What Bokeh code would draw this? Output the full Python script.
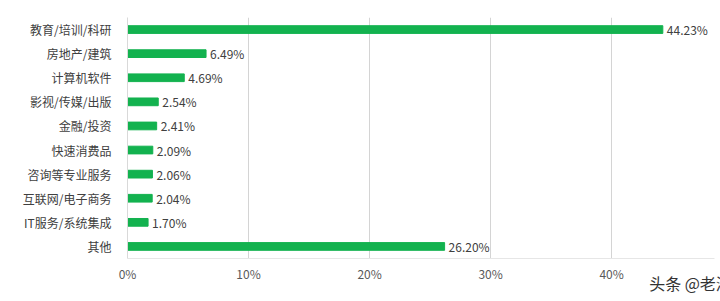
from bokeh.plotting import figure
from bokeh.models import FactorRange, Range1d, FixedTicker, ColumnDataSource
from bokeh.core.properties import value
from bokeh.embed import file_html
from bokeh.resources import INLINE

categories = ["教育/培训/科研", "房地产/建筑", "计算机软件", "影视/传媒/出版", "金融/投资",
              "快速消费品", "咨询等专业服务", "互联网/电子商务", "IT服务/系统集成", "其他"]
shares = [44.23, 6.49, 4.69, 2.54, 2.41, 2.09, 2.06, 2.04, 1.70, 26.20]
labels = ["44.23%", "6.49%", "4.69%", "2.54%", "2.41%", "2.09%", "2.06%", "2.04%", "1.70%", "26.20%"]
x_ticks = [0, 10, 20, 30, 40]
x_tick_labels = {0: "0%", 10: "10%", 20: "20%", 30: "30%", 40: "40%"}
watermark = "头条 @老满说高考"

FONT = "Noto Sans CJK SC"

src = ColumnDataSource(dict(cat=categories, val=shares, lab=labels))

p = figure(width=720, height=301, output_backend="svg", toolbar_location=None,
           y_range=FactorRange(factors=list(reversed(categories))),
           x_range=Range1d(0, 48.5),
           min_border_left=127, min_border_right=6, min_border_top=17, min_border_bottom=43)
p.outline_line_color = None
p.background_fill_color = "white"

p.hbar(y="cat", right="val", left=0, height=0.32, source=src, color="#13B24F")
p.text(x="val", y="cat", text="lab", source=src, x_offset=4,
       text_font=value(FONT), text_font_size="12px", text_color="#404040",
       text_baseline="middle", text_align="left")

p.xgrid.ticker = FixedTicker(ticks=x_ticks)
p.xgrid.grid_line_color = "#d4d4d4"
p.ygrid.grid_line_color = None

p.xaxis.ticker = FixedTicker(ticks=x_ticks)
p.xaxis.major_label_overrides = x_tick_labels
p.xaxis.axis_line_color = "#e6e6e6"
p.xaxis.major_tick_line_color = None
p.xaxis.major_tick_out = 0
p.xaxis.major_tick_in = 0
p.xaxis.minor_tick_line_color = None
p.xaxis.major_label_standoff = 6
p.xaxis.major_label_text_font = FONT
p.xaxis.major_label_text_font_size = "12px"
p.xaxis.major_label_text_color = "#595959"
p.xaxis.axis_label = watermark
p.xaxis.axis_label_align = "end"
p.xaxis.axis_label_text_align = "right"
p.xaxis.axis_label_standoff = -14
p.xaxis.axis_label_text_font = FONT
p.xaxis.axis_label_text_font_size = "16px"
p.xaxis.axis_label_text_font_style = "normal"
p.xaxis.axis_label_text_color = "#333333"

p.yaxis.axis_line_color = "#d9d9d9"
p.yaxis.major_tick_line_color = None
p.yaxis.minor_tick_line_color = None
p.yaxis.major_label_standoff = 10
p.yaxis.major_label_text_font = FONT
p.yaxis.major_label_text_font_size = "12px"
p.yaxis.major_label_text_color = "#404040"

open("out.html", "w").write(file_html(p, INLINE))
